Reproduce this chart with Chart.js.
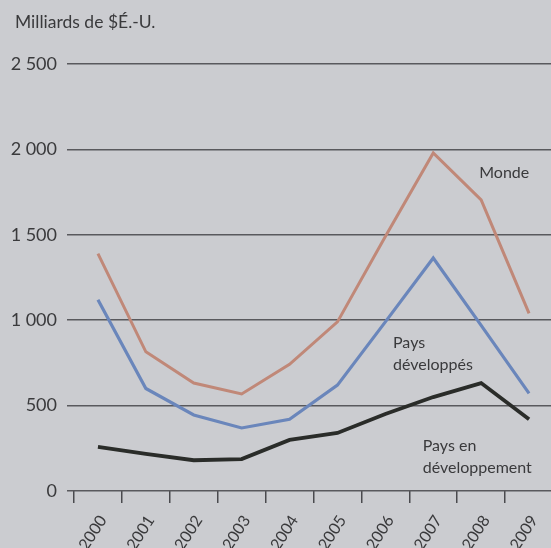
<!DOCTYPE html>
<html lang="fr">
<head>
    <meta charset="UTF-8">
    <title>Investissements - Milliards de $É.-U.</title>
    <script src="https://cdn.jsdelivr.net/npm/chart.js"></script>
    <style>
        * {
            box-sizing: border-box;
            margin: 0;
            padding: 0;
        }

        body {
            background-color: #cbccd0;
            overflow: hidden;
            width: 551px;
            height: 548px;
        }

        canvas {
            display: block;
        }
    </style>
</head>
<body>

    <canvas id="grafico" width="553" height="548"></canvas>

    <script>
        const annees = ["2000", "2001", "2002", "2003", "2004", "2005", "2006", "2007", "2008", "2009"];
        const monde = [1390, 815, 632, 568, 742, 990, 1490, 1979, 1704, 1040];
        const paysDeveloppes = [1120, 600, 445, 369, 420, 620, 990, 1364, 970, 572];
        const paysEnDeveloppement = [258, 217, 180, 187, 299, 340, 451, 550, 632, 420];
        const ticksY = [0, 500, 1000, 1500, 2000, 2500];

        // étiquettes des séries (position en unités d'axe : index d'année, valeur)
        const etiquettes = [
            { lignes: ["Monde"], i: 7.96, v: 1830 },
            { lignes: ["Pays", "développés"], i: 6.16, v: 837 },
            { lignes: ["Pays en", "développement"], i: 6.78, v: 234 }
        ];

        const police = "Lato, 'Open Sans', sans-serif";
        const couleurTexte = '#3a3a3c';

        function formatMilliers(v) {
            return String(v).replace(/\B(?=(\d{3})+(?!\d))/g, ' ');
        }

        const textes = {
            id: 'textes',
            afterDraw(chart) {
                const c = chart.ctx;
                const x = chart.scales.x;
                const y = chart.scales.y;
                c.save();
                c.fillStyle = couleurTexte;
                c.textAlign = 'left';
                c.textBaseline = 'alphabetic';
                c.font = '17.5px ' + police;
                c.fillText('Milliards de $É.-U.', 15, 28);
                c.font = '16px ' + police;
                etiquettes.forEach(e => {
                    const px = x.getPixelForValue(e.i);
                    const py = y.getPixelForValue(e.v);
                    e.lignes.forEach((l, k) => c.fillText(l, px, py + k * 22));
                });
                c.restore();
            }
        };

        let ctx = document.getElementById('grafico').getContext('2d');

        let grafico = new Chart(ctx, {
            type: 'line',
            data: {
                labels: annees,
                datasets: [
                    {
                        label: "Monde",
                        data: monde,
                        borderColor: '#c08878',
                        borderWidth: 3,
                        pointRadius: 0,
                        tension: 0
                    },
                    {
                        label: "Pays développés",
                        data: paysDeveloppes,
                        borderColor: '#6a86bb',
                        borderWidth: 3.2,
                        pointRadius: 0,
                        tension: 0
                    },
                    {
                        label: "Pays en développement",
                        data: paysEnDeveloppement,
                        borderColor: '#2a2c29',
                        borderWidth: 3.8,
                        pointRadius: 0,
                        tension: 0
                    }
                ]
            },
            options: {
                responsive: false,
                animation: false,
                layout: {
                    padding: { top: 64, left: 0, right: 0, bottom: 0 }
                },
                plugins: {
                    legend: { display: false },
                    tooltip: { enabled: false }
                },
                scales: {
                    x: {
                        offset: true,
                        border: { display: false },
                        grid: {
                            offset: true,
                            drawOnChartArea: false,
                            tickLength: 12,
                            color: '#4a4a4e',
                            lineWidth: 1.5
                        },
                        ticks: {
                            color: couleurTexte,
                            font: { family: police, size: 16 },
                            minRotation: 57,
                            maxRotation: 57,
                            padding: 9,
                            labelOffset: 5
                        },
                        afterFit(scale) {
                            scale.height = 57;
                            scale.paddingLeft = 0;
                            scale.paddingRight = 0;
                        }
                    },
                    y: {
                        min: 0,
                        max: 2500,
                        border: { display: false },
                        afterBuildTicks(scale) {
                            scale.ticks = ticksY.map(v => ({ value: v }));
                        },
                        grid: {
                            tickLength: 7,
                            color: '#59595d',
                            lineWidth: 1.5
                        },
                        ticks: {
                            color: couleurTexte,
                            font: { family: police, size: 18 },
                            padding: 10,
                            callback: v => formatMilliers(v)
                        },
                        afterFit(scale) { scale.width = 74; }
                    }
                }
            },
            plugins: [textes]
        });
    </script>

</body>
</html>
